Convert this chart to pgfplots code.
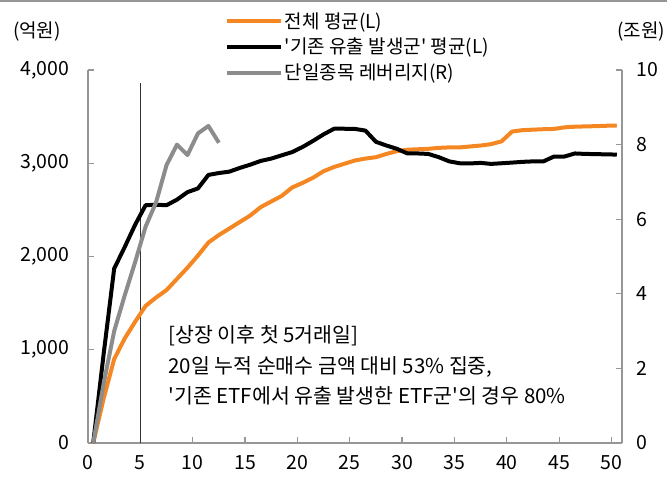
\documentclass[border=0pt]{standalone}
\usepackage{fontspec}
\setmainfont{Noto Sans CJK KR}[Ligatures=TeXOff]
\usepackage{pgfplots}
\pgfplotsset{compat=1.18}
\definecolor{orangeL}{RGB}{245,135,35}
\definecolor{grayR}{RGB}{140,140,140}
\definecolor{axisgray}{RGB}{150,150,150}
\pgfplotstableread{
x y
0.5 0
1.5 480
2.5 900
3.5 1120
4.5 1300
5.5 1470
6.5 1560
7.5 1640
8.5 1760
9.5 1880
10.5 2010
11.5 2150
12.5 2230
13.5 2300
14.5 2370
15.5 2440
16.5 2530
17.5 2590
18.5 2650
19.5 2740
20.5 2790
21.5 2845
22.5 2915
23.5 2960
24.5 2995
25.5 3030
26.5 3050
27.5 3065
28.5 3100
29.5 3130
30.5 3145
31.5 3150
32.5 3155
33.5 3165
34.5 3170
35.5 3170
36.5 3180
37.5 3190
38.5 3205
39.5 3235
40.5 3340
41.5 3355
42.5 3360
43.5 3365
44.5 3368
45.5 3385
46.5 3392
47.5 3395
48.5 3398
49.5 3402
50.5 3405
}\tblAll
\pgfplotstableread{
x y
0.5 0
1.5 960
2.5 1870
3.5 2100
4.5 2340
5.5 2550
6.5 2555
7.5 2550
8.5 2610
9.5 2690
10.5 2730
11.5 2875
12.5 2895
13.5 2910
14.5 2950
15.5 2985
16.5 3025
17.5 3050
18.5 3085
19.5 3120
20.5 3175
21.5 3240
22.5 3310
23.5 3370
24.5 3370
25.5 3368
26.5 3350
27.5 3230
28.5 3190
29.5 3155
30.5 3105
31.5 3105
32.5 3100
33.5 3065
34.5 3020
35.5 3000
36.5 2998
37.5 3004
38.5 2993
39.5 3000
40.5 3007
41.5 3015
42.5 3020
43.5 3020
44.5 3072
45.5 3072
46.5 3105
47.5 3100
48.5 3098
49.5 3095
50.5 3093
}\tblOut
\pgfplotstableread{
x y
0.5 0
1.5 1.6
2.5 3.0
3.5 3.95
4.5 4.85
5.5 5.8
6.5 6.45
7.5 7.45
8.5 8.0
9.5 7.72
10.5 8.3
11.5 8.5
12.5 8.05
}\tblLev
\begin{document}
\begin{tikzpicture}[x=1pt,y=1pt]
\useasboundingbox (0,0) rectangle (667,480);
\fill[axisgray] (0,477.5) rectangle (667,480);
\pgfplotsset{
  every axis/.append style={
    at={(88pt,37pt)}, anchor=south west,
    scale only axis, width=534pt, height=373pt,
    xmin=0, xmax=51,
    axis line style={axisgray, line width=1.5pt},
    tick style={axisgray, line width=1.3pt},
    major tick length=6pt,
    tick align=inside,
    ticklabel style={font=\fontsize{19.5}{19.5}\selectfont, /pgf/number format/assume math mode=true},
  }
}
\begin{axis}[
  ymin=0, ymax=4000,
  axis y line*=left, axis x line*=bottom,
  xtick={0,5,...,50}, ytick={0,1000,...,4000},
  yticklabel style={xshift=-15pt},
  xticklabel style={yshift=-9pt},
  legend style={at={(0.257,1.159)}, anchor=north west, draw=none, fill=none, inner sep=0pt,
    font=\fontsize{19}{19}\selectfont, row sep=5.5pt,
    nodes={inner sep=1.5pt}},
  legend cell align=left,
  legend image code/.code={\draw[#1] (0pt,0pt) -- (54pt,0pt);},
]
\addplot[black!80, line width=1pt, forget plot] coordinates {(5,0) (5,3860)};
\addplot[orangeL, line width=4pt, line join=round] table[x=x,y=y] {\tblAll};
\addlegendentry{전체 평균(L)}
\addplot[black, line width=4pt, line join=round] table[x=x,y=y] {\tblOut};
\addlegendentry{'기존 유출 발생군' 평균(L)}
\addlegendimage{grayR, line width=4pt}
\addlegendentry{단일종목 레버리지(R)}
\end{axis}
\begin{axis}[
  ymin=0, ymax=10,
  axis y line*=right, axis x line=none,
  ytick={0,2,...,10},
  yticklabel style={xshift=11pt},
]
\addplot[grayR, line width=4pt, line join=round] table[x=x,y=y] {\tblLev};
\end{axis}
\node[font=\fontsize{19}{19}\selectfont] at (37,448) {(억원)};
\node[font=\fontsize{19}{19}\selectfont] at (641,448) {(조원)};
\node[anchor=base west, font=\fontsize{20.5}{20.5}\selectfont] at (165,138) {[상장 이후 첫 5거래일]};
\node[anchor=base west, font=\fontsize{20.5}{20.5}\selectfont] at (165,107) {20일 누적 순매수 금액 대비 53\% 집중,};
\node[anchor=base west, font=\fontsize{20.5}{20.5}\selectfont] at (165,77) {'기존 ETF에서 유출 발생한 ETF군'의 경우 80\%};
\end{tikzpicture}
\end{document}
